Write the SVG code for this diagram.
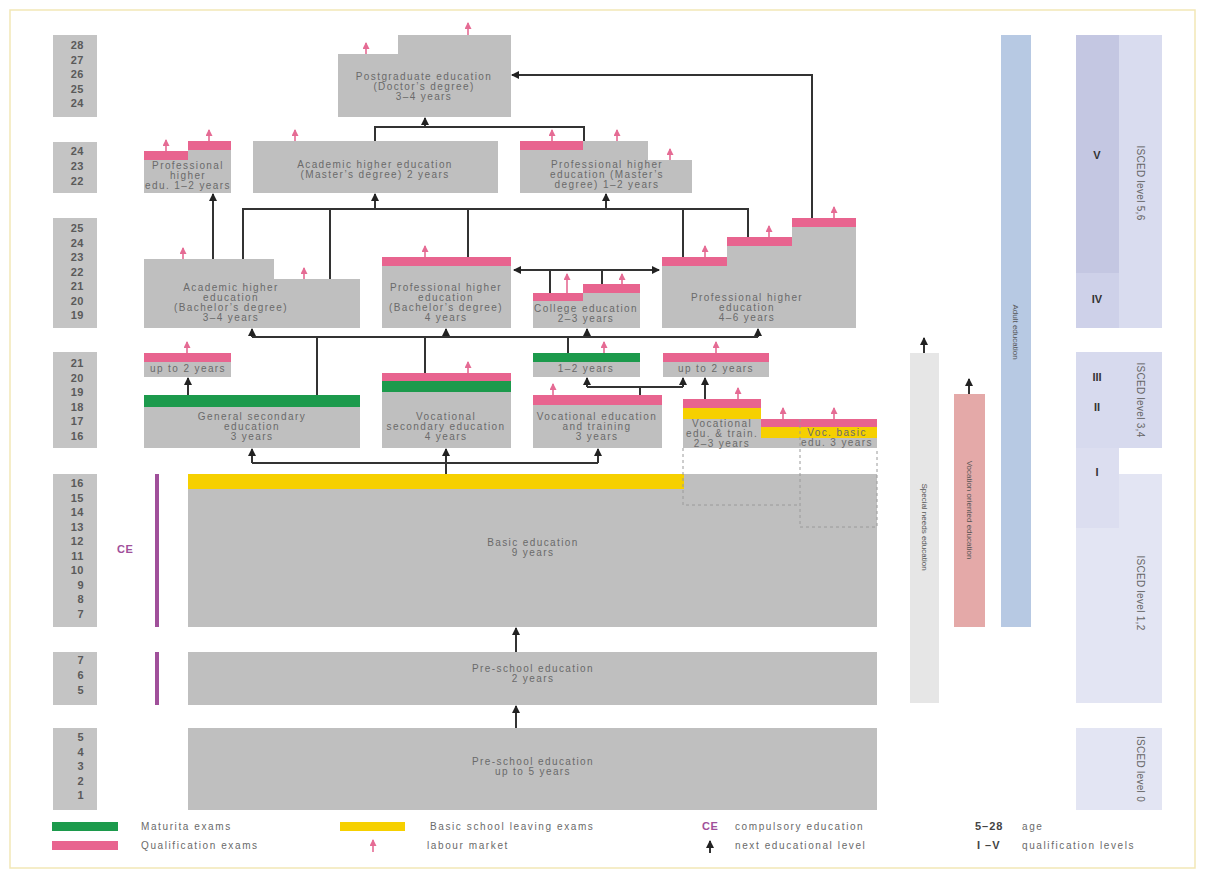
<svg xmlns="http://www.w3.org/2000/svg" width="1205" height="879" viewBox="0 0 1205 879">
<defs>
<style>
.box{fill:#bfbfbf}
.age{fill:#c4c4c4}
.an{font-family:"Liberation Sans",Arial,sans-serif;font-weight:bold;font-size:11px;fill:#5a5a5a;text-anchor:end;letter-spacing:0.5px}
.t{font-family:"Liberation Sans",Arial,sans-serif;font-size:10px;fill:#6a6a6a;text-anchor:middle;letter-spacing:1.4px}
.pk{fill:#e8648f}
.gr{fill:#1c9a4c}
.yl{fill:#f6d000}
.con{stroke:#333;stroke-width:2;fill:none}
.ar{stroke:#333;stroke-width:2;fill:none;marker-end:url(#ah)}
.lm{stroke:#e56b94;stroke-width:1.6;fill:none;marker-end:url(#pa)}
.dash{stroke:#9a9a9a;stroke-width:1;stroke-dasharray:3,3;fill:none}
.vt{font-family:"Liberation Sans",Arial,sans-serif;font-size:8px;fill:#555;text-anchor:middle}
.it{font-family:"Liberation Sans",Arial,sans-serif;font-size:10px;fill:#666;text-anchor:middle;letter-spacing:0.3px}
.ql{font-family:"Liberation Sans",Arial,sans-serif;font-weight:bold;font-size:11px;fill:#333;text-anchor:middle}
.lg{font-family:"Liberation Sans",Arial,sans-serif;font-size:10px;fill:#6a6a6a;letter-spacing:1.6px}
.lb{font-family:"Liberation Sans",Arial,sans-serif;font-weight:bold;font-size:11px;fill:#444;letter-spacing:1px}
.ce{font-family:"Liberation Sans",Arial,sans-serif;font-weight:bold;font-size:11px;fill:#a0509a;letter-spacing:0.5px}
</style>
<marker id="ah" markerUnits="userSpaceOnUse" markerWidth="8" markerHeight="8" viewBox="0 0 8 8" refX="7" refY="4" orient="auto-start-reverse"><path d="M0,0 L8,4 L0,8 z" fill="#222"/></marker>
<marker id="pa" markerUnits="userSpaceOnUse" markerWidth="7" markerHeight="7" viewBox="0 0 7 7" refX="6" refY="3.5" orient="auto"><path d="M0,0 L7,3.5 L0,7 z" fill="#e56b94"/></marker>
</defs>
<rect x="0" y="0" width="1205" height="879" fill="#fff"/>
<rect x="10" y="10" width="1185" height="858" fill="none" stroke="#f2e7b6" stroke-width="1.5"/>

<!-- age columns -->
<g id="ages">
<rect class="age" x="53" y="35" width="44" height="82"/>
<text class="an"><tspan x="84" y="49">28</tspan><tspan x="84" y="63.5">27</tspan><tspan x="84" y="78">26</tspan><tspan x="84" y="92.5">25</tspan><tspan x="84" y="107">24</tspan></text>
<rect class="age" x="53" y="142" width="44" height="51"/>
<text class="an"><tspan x="84" y="155">24</tspan><tspan x="84" y="170">23</tspan><tspan x="84" y="185">22</tspan></text>
<rect class="age" x="53" y="218" width="44" height="110"/>
<text class="an"><tspan x="84" y="232">25</tspan><tspan x="84" y="246.5">24</tspan><tspan x="84" y="261">23</tspan><tspan x="84" y="275.5">22</tspan><tspan x="84" y="290">21</tspan><tspan x="84" y="304.5">20</tspan><tspan x="84" y="319">19</tspan></text>
<rect class="age" x="53" y="352" width="44" height="96"/>
<text class="an"><tspan x="84" y="367">21</tspan><tspan x="84" y="381.5">20</tspan><tspan x="84" y="396">19</tspan><tspan x="84" y="410.5">18</tspan><tspan x="84" y="425">17</tspan><tspan x="84" y="439.5">16</tspan></text>
<rect class="age" x="53" y="474" width="44" height="153"/>
<text class="an"><tspan x="84" y="487">16</tspan><tspan x="84" y="501.5">15</tspan><tspan x="84" y="516">14</tspan><tspan x="84" y="530.5">13</tspan><tspan x="84" y="545">12</tspan><tspan x="84" y="559.5">11</tspan><tspan x="84" y="574">10</tspan><tspan x="84" y="588.5">9</tspan><tspan x="84" y="603">8</tspan><tspan x="84" y="617.5">7</tspan></text>
<rect class="age" x="53" y="652" width="44" height="53"/>
<text class="an"><tspan x="84" y="664">7</tspan><tspan x="84" y="679">6</tspan><tspan x="84" y="694">5</tspan></text>
<rect class="age" x="53" y="728" width="44" height="82"/>
<text class="an"><tspan x="84" y="741">5</tspan><tspan x="84" y="755.5">4</tspan><tspan x="84" y="770">3</tspan><tspan x="84" y="784.5">2</tspan><tspan x="84" y="799">1</tspan></text>
</g>

<g id="ce">
<rect x="155" y="474" width="4" height="153" fill="#a0509a"/>
<rect x="155" y="652" width="4" height="53" fill="#a0509a"/>
<text class="ce" x="117" y="553">CE</text>
</g>

<!-- nodes -->
<g id="postgrad">
<path class="box" d="M338,54 H398 V35 H511 V117 H338 Z"/>
<text class="t"><tspan x="424" y="80">Postgraduate education</tspan><tspan x="424" y="90">(Doctor’s degree)</tspan><tspan x="424" y="100">3–4 years</tspan></text>
<path class="lm" d="M366,54 V43"/><path class="lm" d="M468,35 V23"/>
</g>

<g id="prof-higher-1-2">
<path class="box" d="M144,151 H188 V141 H231 V193 H144 Z"/>
<rect class="pk" x="144" y="151" width="44" height="9"/>
<rect class="pk" x="188" y="141" width="43" height="9"/>
<text class="t"><tspan x="188" y="169">Professional</tspan><tspan x="188" y="179">higher</tspan><tspan x="188" y="189">edu. 1–2 years</tspan></text>
<path class="lm" d="M166,151 V140"/><path class="lm" d="M209,141 V130"/>
</g>

<g id="academic-master">
<rect class="box" x="253" y="141" width="245" height="52"/>
<text class="t"><tspan x="375" y="168">Academic higher education</tspan><tspan x="375" y="178">(Master’s degree) 2 years</tspan></text>
<path class="lm" d="M295,141 V130"/>
</g>

<g id="prof-master">
<path class="box" d="M520,141 H648 V160 H692 V193 H520 Z"/>
<rect class="pk" x="520" y="141" width="63" height="9"/>
<text class="t"><tspan x="607" y="168">Professional higher</tspan><tspan x="607" y="178">education (Master’s</tspan><tspan x="607" y="188">degree) 1–2 years</tspan></text>
<path class="lm" d="M552,141 V130"/><path class="lm" d="M617,141 V130"/><path class="lm" d="M670,160 V149"/>
</g>

<g id="academic-bachelor">
<path class="box" d="M144,259 H274 V279 H360 V328 H144 Z"/>
<text class="t"><tspan x="231" y="291">Academic higher</tspan><tspan x="231" y="301">education</tspan><tspan x="231" y="311">(Bachelor’s degree)</tspan><tspan x="231" y="321">3–4 years</tspan></text>
<path class="lm" d="M183,259 V248"/><path class="lm" d="M304,279 V268"/>
</g>

<g id="prof-bachelor">
<rect class="box" x="382" y="257" width="129" height="71"/>
<rect class="pk" x="382" y="257" width="129" height="9"/>
<text class="t"><tspan x="446" y="291">Professional higher</tspan><tspan x="446" y="301">education</tspan><tspan x="446" y="311">(Bachelor’s degree)</tspan><tspan x="446" y="321">4 years</tspan></text>
<path class="lm" d="M425,257 V246"/>
</g>

<g id="college">
<path class="box" d="M533,293 H583 V284 H640 V328 H533 Z"/>
<rect class="pk" x="533" y="293" width="50" height="8"/>
<rect class="pk" x="583" y="284" width="57" height="9"/>
<text class="t"><tspan x="586" y="312">College education</tspan><tspan x="586" y="322">2–3 years</tspan></text>
<path class="lm" d="M567,293 V274"/><path class="lm" d="M622,284 V274"/>
</g>

<g id="prof-higher-4-6">
<path class="box" d="M662,257 H727 V237 H792 V218 H856 V328 H662 Z"/>
<rect class="pk" x="662" y="257" width="65" height="9"/>
<rect class="pk" x="727" y="237" width="65" height="9"/>
<rect class="pk" x="792" y="218" width="64" height="9"/>
<text class="t"><tspan x="747" y="301">Professional higher</tspan><tspan x="747" y="311">education</tspan><tspan x="747" y="321">4–6 years</tspan></text>
<path class="lm" d="M705,257 V246"/><path class="lm" d="M769,237 V226"/><path class="lm" d="M834,218 V207"/>
</g>

<g id="upto2-left">
<rect class="box" x="144" y="353" width="87" height="24"/>
<rect class="pk" x="144" y="353" width="87" height="9"/>
<text class="t" x="188" y="372">up to 2 years</text>
<path class="lm" d="M187,353 V342"/>
</g>

<g id="general-secondary">
<rect class="box" x="144" y="395" width="216" height="53"/>
<rect class="gr" x="144" y="395" width="216" height="12"/>
<text class="t"><tspan x="252" y="420">General secondary</tspan><tspan x="252" y="430">education</tspan><tspan x="252" y="440">3 years</tspan></text>
</g>

<g id="vocational-secondary">
<rect class="box" x="382" y="373" width="129" height="75"/>
<rect class="pk" x="382" y="373" width="129" height="8"/>
<rect class="gr" x="382" y="381" width="129" height="11"/>
<text class="t"><tspan x="446" y="420">Vocational</tspan><tspan x="446" y="430">secondary education</tspan><tspan x="446" y="440">4 years</tspan></text>
<path class="lm" d="M468,373 V362"/>
</g>

<g id="one-two-years">
<rect class="box" x="533" y="353" width="107" height="24"/>
<rect class="gr" x="533" y="353" width="107" height="9"/>
<text class="t" x="586" y="372">1–2 years</text>
<path class="lm" d="M604,353 V342"/>
</g>

<g id="upto2-right">
<rect class="box" x="663" y="353" width="106" height="24"/>
<rect class="pk" x="663" y="353" width="106" height="9"/>
<text class="t" x="716" y="372">up to 2 years</text>
<path class="lm" d="M716,353 V342"/>
</g>

<g id="vet">
<rect class="box" x="533" y="395" width="129" height="53"/>
<rect class="pk" x="533" y="395" width="129" height="10"/>
<text class="t"><tspan x="597" y="420">Vocational education</tspan><tspan x="597" y="430">and training</tspan><tspan x="597" y="440">3 years</tspan></text>
<path class="lm" d="M553,395 V384"/>
</g>

<g id="basic">
<rect class="box" x="188" y="474" width="689" height="153"/>
<rect class="yl" x="188" y="474" width="496" height="15"/>
<text class="t"><tspan x="533" y="546">Basic education</tspan><tspan x="533" y="556">9 years</tspan></text>
</g>

<g id="voc-edu-train">
<rect class="box" x="683" y="399" width="78" height="49"/>
<rect class="pk" x="683" y="399" width="78" height="9"/>
<rect class="yl" x="683" y="408" width="78" height="11"/>
<text class="t"><tspan x="722" y="427">Vocational</tspan><tspan x="722" y="437">edu. &amp; train.</tspan><tspan x="722" y="447">2–3 years</tspan></text>
<path class="lm" d="M738,399 V388"/>
<path class="dash" d="M683,448 V505 H800"/>
</g>

<g id="voc-basic">
<rect class="box" x="761" y="419" width="116" height="29"/>
<rect class="pk" x="761" y="419" width="116" height="8"/>
<rect class="yl" x="761" y="427" width="116" height="11"/>
<text class="t"><tspan x="837" y="436">Voc. basic</tspan><tspan x="837" y="446">edu. 3 years</tspan></text>
<path class="lm" d="M783,419 V408"/><path class="lm" d="M834,419 V408"/>
<path class="dash" d="M800,419 V527 H877 V448"/>
</g>

<g id="preschool-2">
<rect class="box" x="188" y="652" width="689" height="53"/>
<text class="t"><tspan x="533" y="672">Pre-school education</tspan><tspan x="533" y="682">2 years</tspan></text>
</g>

<g id="preschool-5">
<rect class="box" x="188" y="728" width="689" height="82"/>
<text class="t"><tspan x="533" y="765">Pre-school education</tspan><tspan x="533" y="775">up to 5 years</tspan></text>
</g>

<!-- connectors -->
<g id="connectors">
<path class="con" d="M375,141 V127 H584 V141"/>
<path class="ar" d="M425,127 V118"/>
<path class="ar" d="M812,218 V75 H512"/>
<path class="ar" d="M213,259 V194"/>
<path class="con" d="M243,259 V209 H748 V237"/>
<path class="con" d="M330,279 V209"/>
<path class="con" d="M468,257 V209"/>
<path class="con" d="M683,257 V209"/>
<path class="ar" d="M375,209 V194"/>
<path class="ar" d="M606,209 V194"/>
<path class="ar" d="M514,270 H659" marker-start="url(#ah)"/>
<path class="con" d="M550,293 V270"/>
<path class="con" d="M602,284 V270"/>
<path class="con" d="M252,337 H758"/>
<path class="ar" d="M252,337 V329"/>
<path class="ar" d="M446,337 V329"/>
<path class="ar" d="M587,337 V329"/>
<path class="ar" d="M758,337 V329"/>
<path class="con" d="M317,395 V337"/>
<path class="con" d="M425,373 V337"/>
<path class="con" d="M568,353 V337"/>
<path class="ar" d="M188,395 V378"/>
<path class="con" d="M640,395 V387"/>
<path class="con" d="M587,387 H683"/>
<path class="ar" d="M587,387 V378"/>
<path class="ar" d="M683,387 V378"/>
<path class="ar" d="M705,399 V378"/>
<path class="con" d="M252,463 H598"/>
<path class="con" d="M446,474 V463"/>
<path class="ar" d="M252,463 V449"/>
<path class="ar" d="M446,463 V449"/>
<path class="ar" d="M598,463 V449"/>
<path class="ar" d="M516,652 V628"/>
<path class="ar" d="M516,728 V706"/>
<path class="ar" d="M924,353 V338"/>
<path class="ar" d="M969,394 V379"/>
</g>

<!-- side columns -->
<g id="special-needs">
<rect x="910" y="353" width="29" height="350" fill="#e6e6e6"/>
<text class="vt" transform="translate(924.5,527) rotate(90)" y="3">Special needs education</text>
</g>
<g id="vocation-oriented">
<rect x="954" y="394" width="31" height="233" fill="#e4a9a8"/>
<text class="vt" transform="translate(969.5,510) rotate(90)" y="3">Vocation oriented education</text>
</g>
<g id="adult">
<rect x="1001" y="35" width="30" height="592" fill="#b7c9e3"/>
<text class="vt" transform="translate(1016,332) rotate(90)" y="3">Adult education</text>
</g>

<g id="isced">
<rect x="1076" y="35" width="86" height="293" fill="#d9dcef"/>
<rect x="1076" y="35" width="43" height="238" fill="#c4c7e2"/>
<rect x="1076" y="273" width="43" height="55" fill="#ced1e9"/>
<rect x="1076" y="352" width="86" height="351" fill="#e3e5f3"/>
<rect x="1076" y="352" width="86" height="96" fill="#d7daee"/>
<rect x="1076" y="448" width="43" height="80" fill="#dcdef0"/>
<rect x="1119" y="448" width="43" height="26" fill="#fff"/>
<rect x="1076" y="728" width="86" height="82" fill="#e3e5f3"/>
<text class="ql" x="1097" y="159">V</text>
<text class="ql" x="1097" y="303">IV</text>
<text class="ql" x="1097" y="381">III</text>
<text class="ql" x="1097" y="411">II</text>
<text class="ql" x="1097" y="476">I</text>
<text class="it" transform="translate(1140,183) rotate(90)" y="3.5">ISCED level 5,6</text>
<text class="it" transform="translate(1140,400) rotate(90)" y="3.5">ISCED level 3,4</text>
<text class="it" transform="translate(1140,593) rotate(90)" y="3.5">ISCED level 1,2</text>
<text class="it" transform="translate(1140,769) rotate(90)" y="3.5">ISCED level 0</text>
</g>

<!-- legend -->
<g id="legend">
<rect class="gr" x="52" y="822" width="66" height="9"/>
<text class="lg" x="141" y="830">Maturita exams</text>
<rect class="pk" x="52" y="841" width="66" height="9"/>
<text class="lg" x="141" y="849">Qualification exams</text>
<rect class="yl" x="340" y="822" width="65" height="9"/>
<text class="lg" x="430" y="830">Basic school leaving exams</text>
<path class="lm" d="M373,852 V840"/>
<text class="lg" x="427" y="849">labour market</text>
<text class="ce" x="702" y="830">CE</text>
<text class="lg" x="735" y="830">compulsory education</text>
<path class="ar" d="M710,853 V841"/>
<text class="lg" x="735" y="849">next educational level</text>
<text class="lb" x="975" y="830">5–28</text>
<text class="lg" x="1022" y="830">age</text>
<text class="lb" x="977" y="849">I –V</text>
<text class="lg" x="1022" y="849">qualification levels</text>
</g>
</svg>
